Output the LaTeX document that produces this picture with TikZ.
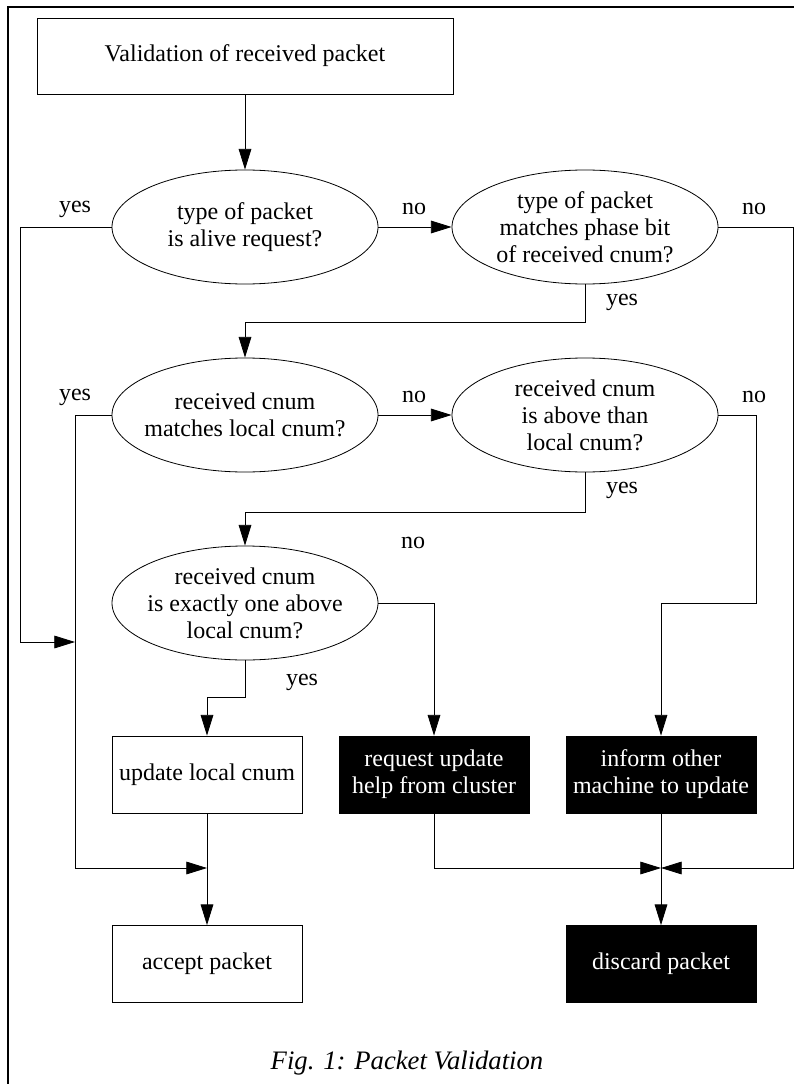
\documentclass[tikz,border=0pt]{standalone}
\usepackage{fontspec}
\setmainfont{Liberation Serif}
\usepackage{tikz}
\usetikzlibrary{shapes.geometric, arrows.meta, calc, positioning}

\begin{document}
\begin{tikzpicture}[x=0.75pt, y=-0.75pt]

% TikZ styles
\tikzset{
  every node/.style={font=\fontsize{18}{20.25}\selectfont},
  decision/.style={ellipse, draw=black, line width=0.6pt, inner sep=0pt, minimum width=199.5pt, minimum height=85.5pt,
    label={[align=center, inner sep=0pt]center:#1}},
  process/.style={rectangle, draw=black, line width=0.6pt, minimum width=142.5pt, minimum height=57.75pt, align=center},
  darkprocess/.style={process, fill=black, text=white},
  arrow/.style={-{Triangle[length=15.5pt, width=9.5pt]}, line width=0.6pt},
  answer/.style={inner sep=0pt}
}

\useasboundingbox (0,0) rectangle (794,1084);

% Rahmen
\draw[line width=1pt] (7,7) -- (794,7);
\draw[line width=1pt] (8,7) -- (8,1084);

%==========================
% Knoten
%==========================
\node[process, minimum width=312pt, minimum height=57pt] (start) at (245,56) {Validation of received packet};

\node[decision={type of packet\\is alive request?}]                     (alive)    at (245,227) {};
\node[decision={type of packet\\matches phase bit\\of received cnum?}]  (phase)    at (585,227) {};
\node[decision={received cnum\\matches local cnum?}]                    (match)    at (245,415) {};
\node[decision={received cnum\\is above than\\local cnum?}]             (above)    at (585,415) {};
\node[decision={received cnum\\is exactly one above\\local cnum?}]      (oneabove) at (245,603) {};

\node[process]     (update)  at (207,774.5) {update local cnum};
\node[darkprocess] (request) at (434,774.5) {request update\\help from cluster};
\node[darkprocess] (inform)  at (661,774.5) {inform other\\machine to update};

\node[process]     (accept)  at (207,964) {accept packet};
\node[darkprocess] (discard) at (661,964) {discard packet};

\node[font=\fontsize{20}{24}\selectfont\itshape] (caption) at (407,1063) {Fig. 1: Packet Validation};

\coordinate (leftjoin)    at (75,642);
\coordinate (leftrail)    at (75,868);
\coordinate (joinaccept)  at (207,868);
\coordinate (joindiscard) at (661,868);

% Beschriftungen
\node[answer] at (75,209)  {yes};
\node[answer] at (414,209) {no};
\node[answer] at (754,209) {no};
\node[answer] at (622,302) {yes};
\node[answer] at (75,397)  {yes};
\node[answer] at (414,397) {no};
\node[answer] at (754,397) {no};
\node[answer] at (622,490) {yes};
\node[answer] at (413,543) {no};
\node[answer] at (302,682) {yes};

%==========================
% Pfeile
%==========================
\draw[arrow] (start.south) -- (alive.north);
\draw[arrow] (alive.east) -- (phase.west);
\draw[arrow] (alive.west) -- ++(-91,0) |- (leftjoin);
\draw[arrow] (phase.east) -- ++(75,0) |- (joindiscard);
\draw[arrow] (phase.south) -- ++(0,38) -| (match.north);

\draw[arrow] (match.east) -- (above.west);
\draw[arrow] (match.west) -| (leftrail) -- (joinaccept);
\draw[arrow] (above.east) -- ++(38,0) -- ++(0,188) -| (inform.north);
\draw[arrow] (above.south) -- ++(0,40) -| (oneabove.north);

\draw[arrow] (oneabove.east) -| (request.north);
\draw[arrow] (oneabove.south) -- ++(0,37) -| (update.north);

\draw[arrow] (update.south) -- (accept.north);
\draw[arrow] (request.south) |- (joindiscard);
\draw[arrow] (inform.south) -- (discard.north);
\end{tikzpicture}
\end{document}
